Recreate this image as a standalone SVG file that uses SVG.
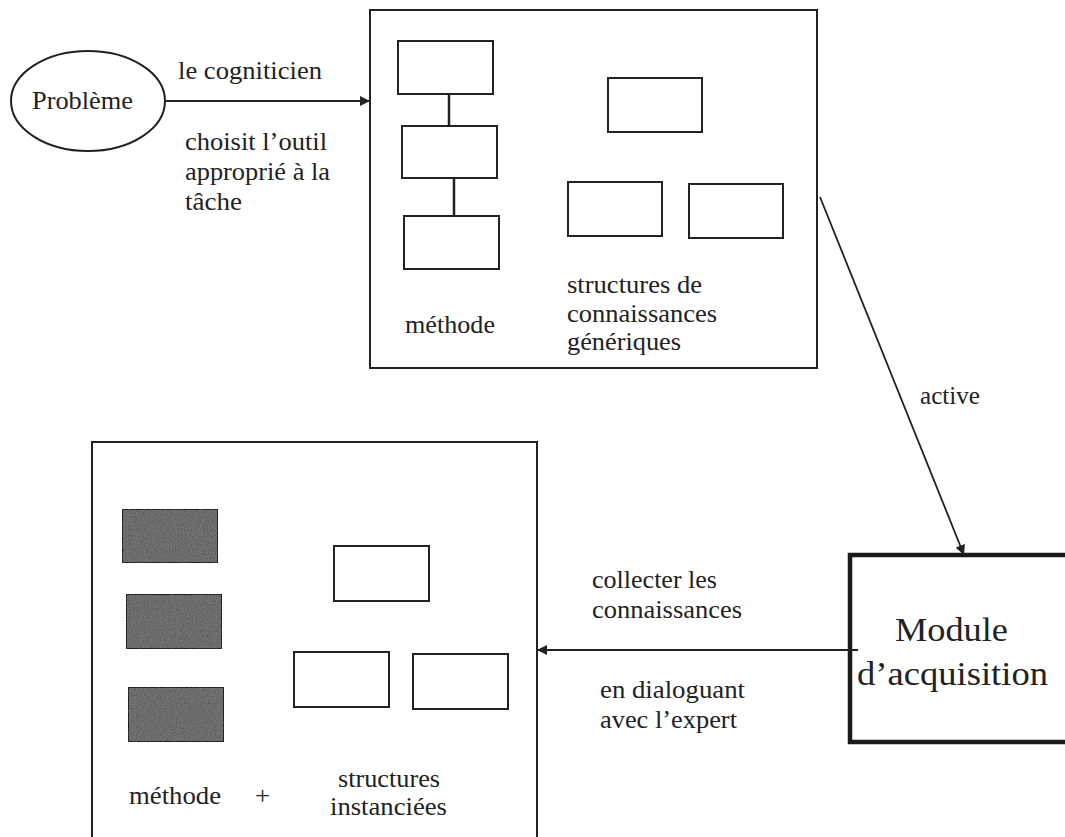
<svg xmlns="http://www.w3.org/2000/svg" width="1065" height="837" viewBox="0 0 1065 837" font-family="'Liberation Serif', 'DejaVu Serif', serif">
  <style>
    text { font-family: 'Liberation Serif', 'DejaVu Serif', serif; font-size: 25px; fill: #222; }
    .big { font-size: 34px; }
    .frame { fill: none; stroke: #222; stroke-width: 2; }
    .box { fill: #fff; stroke: #222; stroke-width: 2; }
    .dark { fill: #727272; stroke: #3a3a3a; stroke-width: 2; filter: url(#grain); }
    .link { fill: none; stroke: #222; stroke-width: 2.5; }
    .conn { fill: none; stroke: #222; stroke-width: 1.8; }
  </style>
  <defs>
    <marker id="arrow" viewBox="0 0 10 10" refX="10" refY="5" markerWidth="10" markerHeight="10" markerUnits="userSpaceOnUse" orient="auto">
      <path d="M0,0 L10,5 L0,10 z" fill="#222"/>
    </marker>
    <filter id="grain" x="0" y="0" width="1" height="1">
      <feTurbulence type="fractalNoise" baseFrequency="0.85" numOctaves="2" seed="7" result="noise"/>
      <feColorMatrix in="noise" type="saturate" values="0" result="grey"/>
      <feComposite in="SourceGraphic" in2="grey" operator="arithmetic" k1="0" k2="0.85" k3="0.3" k4="-0.14" result="mix"/>
      <feComposite in="mix" in2="SourceGraphic" operator="in"/>
    </filter>
  </defs>

  <rect width="1065" height="837" fill="#fff"/>

  <!-- problem node -->
  <g id="probleme">
    <ellipse cx="88" cy="101" rx="77" ry="50" class="frame"/>
    <text x="32" y="109" textLength="101" lengthAdjust="spacingAndGlyphs">Problème</text>
  </g>

  <!-- generic tool: method chain + generic knowledge structures -->
  <g id="outil-generique">
    <rect x="370" y="10" width="447" height="358" class="frame"/>
    <rect x="398" y="41" width="95" height="53" class="box"/>
    <rect x="402" y="126" width="95" height="52" class="box"/>
    <rect x="404" y="216" width="95" height="53" class="box"/>
    <line x1="449" y1="94" x2="449" y2="126" class="link"/>
    <line x1="454" y1="178" x2="454" y2="216" class="link"/>
    <rect x="608" y="78" width="94" height="54" class="box"/>
    <rect x="568" y="182" width="94" height="54" class="box"/>
    <rect x="689" y="184" width="94" height="54" class="box"/>
    <text x="405" y="333" textLength="90" lengthAdjust="spacingAndGlyphs">méthode</text>
    <text x="567" y="293" textLength="135" lengthAdjust="spacingAndGlyphs">structures de</text>
    <text x="567" y="322" textLength="150" lengthAdjust="spacingAndGlyphs">connaissances</text>
    <text x="567" y="350" textLength="114" lengthAdjust="spacingAndGlyphs">génériques</text>
  </g>

  <!-- instantiated tool: filled method + instantiated structures -->
  <g id="outil-instancie">
    <path d="M92,837 L92,442 L537,442 L537,837" class="frame"/>
    <rect x="122" y="509" width="96" height="54" class="dark"/>
    <rect x="126" y="594" width="96" height="55" class="dark"/>
    <rect x="128" y="687" width="96" height="55" class="dark"/>
    <rect x="334" y="546" width="95" height="55" class="box"/>
    <rect x="294" y="652" width="95" height="55" class="box"/>
    <rect x="413" y="654" width="95" height="55" class="box"/>
    <text x="129" y="804" textLength="92" lengthAdjust="spacingAndGlyphs">méthode</text>
    <text x="255" y="804" textLength="15" lengthAdjust="spacingAndGlyphs">+</text>
    <text x="338" y="787" textLength="102" lengthAdjust="spacingAndGlyphs">structures</text>
    <text x="330" y="815" textLength="117" lengthAdjust="spacingAndGlyphs">instanciées</text>
  </g>

  <!-- acquisition module -->
  <g id="module-acquisition">
    <path d="M1070,555 L850,555 L850,742 L1070,742" fill="none" stroke="#1a1a1a" stroke-width="4.5"/>
    <text class="big" x="895" y="641" textLength="113" lengthAdjust="spacingAndGlyphs">Module</text>
    <text class="big" x="857" y="685" textLength="191" lengthAdjust="spacingAndGlyphs">d’acquisition</text>
  </g>

  <!-- connectors -->
  <g id="connecteurs">
    <line x1="165" y1="101" x2="370" y2="101" class="conn" marker-end="url(#arrow)"/>
    <line x1="820" y1="197" x2="964" y2="555" class="conn" marker-end="url(#arrow)"/>
    <line x1="858" y1="650" x2="537" y2="650" class="conn" marker-end="url(#arrow)"/>
  </g>

  <!-- connector labels -->
  <g id="libelles">
    <text x="178" y="79" textLength="144" lengthAdjust="spacingAndGlyphs">le cogniticien</text>
    <text x="185" y="150" textLength="142" lengthAdjust="spacingAndGlyphs">choisit l’outil</text>
    <text x="185" y="180" textLength="145" lengthAdjust="spacingAndGlyphs">approprié à la</text>
    <text x="185" y="210" textLength="57" lengthAdjust="spacingAndGlyphs">tâche</text>
    <text x="920" y="404" textLength="60" lengthAdjust="spacingAndGlyphs">active</text>
    <text x="592" y="588" textLength="125" lengthAdjust="spacingAndGlyphs">collecter les</text>
    <text x="592" y="618" textLength="150" lengthAdjust="spacingAndGlyphs">connaissances</text>
    <text x="600" y="698" textLength="145" lengthAdjust="spacingAndGlyphs">en dialoguant</text>
    <text x="600" y="728" textLength="137" lengthAdjust="spacingAndGlyphs">avec l’expert</text>
  </g>
</svg>
